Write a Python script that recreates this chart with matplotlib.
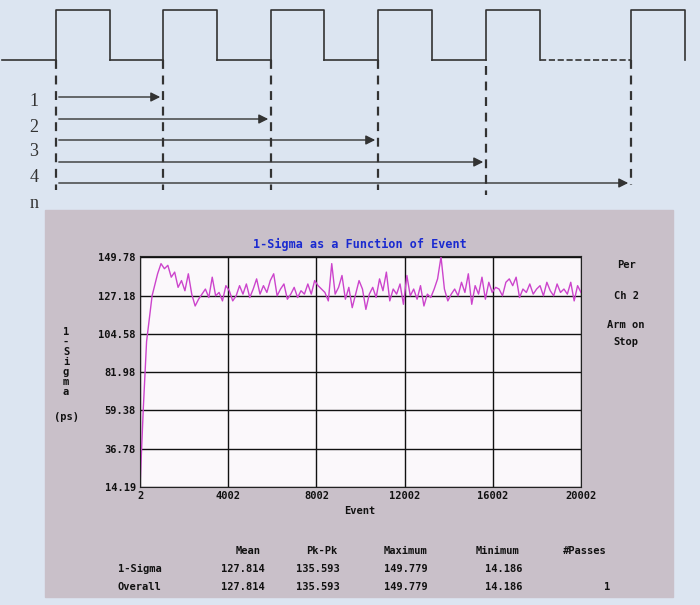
import matplotlib
matplotlib.use("Agg")
import matplotlib.pyplot as plt
import numpy as np

# ---- data ----
early_events = [2, 150, 300, 550]
early_vals = [14.2, 60, 100, 127]
sigma_vals = [140, 146, 143, 145, 138, 141, 132, 136, 130, 140, 128, 121, 125, 128, 131, 126,
              138, 127, 129, 124, 133, 130, 124, 127, 133, 128, 134, 126, 131, 137, 128, 133, 129, 136, 140, 127,
              131, 134, 125, 128, 132, 126, 130, 128, 134, 128, 136, 133, 131, 129, 124, 146, 128, 132, 139, 125,
              132, 120, 128, 136, 131, 119, 128, 132, 126, 137, 130, 141, 124, 131, 128, 134, 122, 139, 127, 131,
              125, 133, 121, 128, 126, 131, 137, 150, 131, 124, 128, 131, 127, 135, 129, 140, 122, 133, 128, 138,
              125, 135, 129, 132, 131, 127, 135, 137, 133, 138, 126, 131, 129, 134, 128, 131, 133, 127, 135, 130,
              127, 134, 129, 131, 128, 135, 124, 133, 129]
events = np.concatenate([early_events, np.linspace(800, 20002, len(sigma_vals))])
values = early_vals + sigma_vals
yticks = [14.19, 36.78, 59.38, 81.98, 104.58, 127.18, 149.78]
xticks = [2, 4002, 8002, 12002, 16002, 20002]
stat_cols = ["Mean", "Pk-Pk", "Maximum", "Minimum", "#Passes"]
stat_rows = ["1-Sigma", "Overall"]
stat_vals = [["127.814", "135.593", "149.779", "14.186", ""],
             ["127.814", "135.593", "149.779", "14.186", "1"]]
rise_x = [56, 163, 271, 378, 486, 631]
fall_x = [110, 217, 324, 432, 540, 685]

W, H = 700, 605
fig = plt.figure(figsize=(7, 6.05), dpi=100)
fig.patch.set_facecolor("#dce5f1")
bg = fig.add_axes([0, 0, 1, 1])
bg.set_xlim(0, W); bg.set_ylim(H, 0); bg.axis("off")

# timing diagram
ink = "#333333"
lo, hi = 60, 10
bg.plot([2, rise_x[0]], [lo, lo], color=ink, lw=1.2)
for i in range(6):
    r, f = rise_x[i], fall_x[i]
    bg.plot([r, r, f, f], [lo, hi, hi, lo], color=ink, lw=1.2)
    if i < 5:
        nxt = rise_x[i + 1]
        bg.plot([f, nxt], [lo, lo], color=ink, lw=1.2, ls="--" if i == 4 else "-")
for x, (y0, y1) in zip(rise_x, [(60, 190)] * 4 + [(66, 195), (60, 185)]):
    bg.plot([x, x], [y0, y1], color=ink, lw=1.6, ls=(0, (4, 3)))
for k, (y, x1) in enumerate(zip([97, 119, 140, 162, 183], rise_x[1:])):
    bg.annotate("", xy=(x1, y), xytext=(56, y),
                arrowprops=dict(arrowstyle="-|>", color=ink, lw=1.0, mutation_scale=14))
for lab, y in zip(["1", "2", "3", "4", "n"], [102, 127, 152, 177, 203]):
    bg.text(34, y, lab, fontsize=13, family="Liberation Serif", color="#333333", va="center", ha="center")

# grey panel
bg.add_patch(plt.Rectangle((45, 210), 628, 387, color="#c9c0c9", zorder=0))

mono = dict(family="DejaVu Sans Mono", fontweight="bold", fontsize=7.5, color="#111111")
bg.text(360, 244, "1-Sigma as a Function of Event", color="#1a2ad0", ha="center", va="center",
        family="DejaVu Sans Mono", fontweight="bold", fontsize=8.5)
for t, y in zip(["Per", "Ch 2", "Arm on", "Stop"], [265, 296, 325, 342]):
    bg.text(626, y, t, ha="center", va="center", **mono)
for i, ch in enumerate("1-Sigma"):
    bg.text(66, 332 + i * 10, ch, ha="center", va="center", **mono)
bg.text(66, 417, "(ps)", ha="center", va="center", **mono)
bg.text(360, 511, "Event", ha="center", va="center", **mono)
for c, x in zip(stat_cols, [248, 322, 405, 498, 585]):
    bg.text(x, 551, c, ha="center", va="center", **mono)
for r, y, vals in zip(stat_rows, [569, 587], stat_vals):
    bg.text(118, y, r, ha="left", va="center", **mono)
    for v, x in zip(vals, [265, 340, 428, 523, 610]):
        bg.text(x, y, v, ha="right", va="center", **mono)

# plot
ax = fig.add_axes([140 / W, 1 - 487 / H, 441 / W, 231 / H])
ax.set_facecolor("#fbf8fb")
ax.plot(events, values, color="#cc44cc", lw=1.0)
ax.set_xlim(2, 20002); ax.set_ylim(14.19, 150.5)
ax.set_yticks(yticks); ax.set_xticks(xticks)
ax.set_yticklabels([f"{v:.2f}" for v in yticks], **mono)
ax.set_xticklabels([str(v) for v in xticks], **mono)
ax.grid(True, color="#111111", lw=1.0)
ax.tick_params(length=0, pad=3)
for s in ax.spines.values():
    s.set_color("#222222")
fig.savefig("out.png", dpi=100, facecolor=fig.get_facecolor())
